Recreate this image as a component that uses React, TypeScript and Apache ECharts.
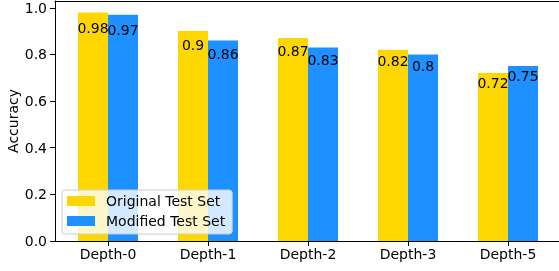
import React, { useEffect, useRef } from "react";
import * as echarts from "echarts";

const categories = ["Depth-0", "Depth-1", "Depth-2", "Depth-3", "Depth-5"];
const originalAcc = [0.98, 0.9, 0.87, 0.82, 0.72];
const modifiedAcc = [0.97, 0.86, 0.83, 0.8, 0.75];
const yTicks = [0, 0.2, 0.4, 0.6, 0.8, 1.0];
const xTicks = [0, 1, 2, 3, 4];

// layout constants (not data)
const BAR_OFFSET = 0.15;
const labelDrop = [8.5, 6.5, 5.5, 4.5, 2.5];

const FONT = "DejaVu Sans";

export default function App() {
  const ref = useRef<HTMLDivElement>(null);
  useEffect(() => {
    if (!ref.current) return;
    const chart = echarts.init(ref.current, undefined, { renderer: "svg" });
    const xMin = -0.53;
    const xMax = 4.53;
    const mkData = (vals: number[], off: number) =>
      vals.map((v, i) => ({
        value: [i + off, v],
        label: { distance: labelDrop[i] },
      }));
    const labelCfg = {
      show: true,
      position: "insideTop",
      color: "#000",
      fontSize: 14,
      fontFamily: FONT,
      formatter: (p: any) => String(p.value[1]),
    };
    chart.setOption({
      animation: false,
      textStyle: { fontFamily: FONT },
      grid: {
        left: 55,
        right: -2,
        top: 1,
        bottom: 30,
        outerBoundsMode: "none",
        containLabel: false,
        show: false,
      },
      xAxis: [
        {
          type: "value",
          min: xMin,
          max: xMax,
          position: "bottom",
          axisLine: { show: true, onZero: false, lineStyle: { color: "#000", width: 1 } },
          axisTick: { show: true, length: 5, customValues: xTicks, lineStyle: { color: "#000" } },
          axisLabel: {
            customValues: xTicks,
            color: "#000",
            fontSize: 14,
            fontFamily: FONT,
            margin: 6,
            formatter: (v: number) => categories[Math.round(v)] ?? "",
          },
          splitLine: { show: false },
        },
        {
          type: "value",
          min: xMin,
          max: xMax,
          position: "top",
          axisLine: { show: true, onZero: false, lineStyle: { color: "#000", width: 1 } },
          axisTick: { show: false },
          axisLabel: { show: false },
          splitLine: { show: false },
        },
      ],
      yAxis: {
        type: "value",
        min: 0,
        max: 1.029,
        name: "Accuracy",
        nameLocation: "middle",
        nameGap: 35,
        nameMoveOverlap: false,
        nameTextStyle: { color: "#000", fontSize: 14, fontFamily: FONT },
        axisLine: { show: true, onZero: false, lineStyle: { color: "#000", width: 1 } },
        axisTick: { show: true, length: 5, customValues: yTicks, lineStyle: { color: "#000" } },
        axisLabel: {
          customValues: yTicks,
          color: "#000",
          fontSize: 14,
          fontFamily: FONT,
          margin: 8,
          formatter: (v: number) => v.toFixed(1),
        },
        splitLine: { show: false },
      },
      legend: {
        orient: "vertical",
        left: 62,
        top: 190,
        itemWidth: 28,
        itemHeight: 10,
        itemGap: 6,
        icon: "rect",
        padding: [4, 7, 6, 5],
        backgroundColor: "rgba(255,255,255,0.8)",
        borderColor: "#cccccc",
        borderWidth: 1,
        borderRadius: 3,
        textStyle: { color: "#000", fontSize: 14, fontFamily: FONT, padding: [0, 0, 0, 6] },
        data: ["Original Test Set", "Modified Test Set"],
      },
      series: [
        {
          name: "Original Test Set",
          type: "bar",
          xAxisIndex: 0,
          barWidth: 30,
          barGap: "-100%",
          itemStyle: { color: "#FFD700" },
          label: labelCfg,
          data: mkData(originalAcc, -BAR_OFFSET),
        },
        {
          name: "Modified Test Set",
          type: "bar",
          xAxisIndex: 0,
          barWidth: 30,
          barGap: "-100%",
          itemStyle: { color: "#1E90FF" },
          label: labelCfg,
          data: mkData(modifiedAcc, BAR_OFFSET),
        },
      ],
    });
    return () => chart.dispose();
  }, []);
  return (
    <div
      ref={ref}
      style={{ position: "fixed", left: 0, top: 0, width: 559, height: 271 }}
    />
  );
}
